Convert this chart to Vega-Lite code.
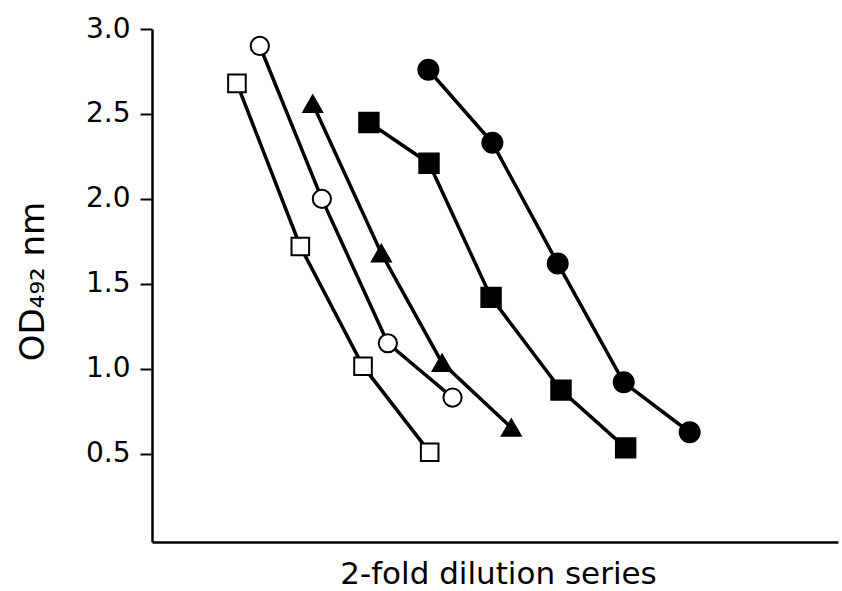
{
  "$schema": "https://vega.github.io/schema/vega-lite/v6.json",
  "width": 686,
  "height": 513,
  "autosize": {"type": "none"},
  "padding": {"left": 152, "top": 29, "right": 4, "bottom": 49},
  "background": "white",
  "config": {
    "view": {"stroke": null},
    "font": "DejaVu Sans",
    "axis": {"grid": false, "labelColor": "black", "titleColor": "black", "domainColor": "black", "tickColor": "black"}
  },
  "data": {
    "values": [
      {"series": "A", "x": 1.30, "od": 2.68},
      {"series": "A", "x": 2.27, "od": 1.72},
      {"series": "A", "x": 3.23, "od": 1.015},
      {"series": "A", "x": 4.25, "od": 0.508},
      {"series": "B", "x": 1.65, "od": 2.90},
      {"series": "B", "x": 2.60, "od": 2.00},
      {"series": "B", "x": 3.61, "od": 1.15},
      {"series": "B", "x": 4.60, "od": 0.83},
      {"series": "C", "x": 2.46, "od": 2.56},
      {"series": "C", "x": 3.51, "od": 1.68},
      {"series": "C", "x": 4.44, "od": 1.035},
      {"series": "C", "x": 5.50, "od": 0.653},
      {"series": "D", "x": 3.32, "od": 2.45},
      {"series": "D", "x": 4.24, "od": 2.21},
      {"series": "D", "x": 5.19, "od": 1.42},
      {"series": "D", "x": 6.26, "od": 0.874},
      {"series": "D", "x": 7.25, "od": 0.534},
      {"series": "E", "x": 4.23, "od": 2.76},
      {"series": "E", "x": 5.21, "od": 2.33},
      {"series": "E", "x": 6.21, "od": 1.62},
      {"series": "E", "x": 7.22, "od": 0.92},
      {"series": "E", "x": 8.23, "od": 0.626}
    ]
  },
  "encoding": {
    "x": {
      "field": "x", "type": "quantitative",
      "scale": {"domain": [0, 10.5], "nice": false, "zero": false},
      "axis": {
        "title": "2-fold dilution series",
        "labels": false, "ticks": false,
        "domainWidth": 2.5,
        "titleFontSize": 31, "titleFontWeight": "normal",
        "titleX": 346, "titleY": 41, "titleAlign": "center", "titleBaseline": "alphabetic"
      }
    },
    "y": {
      "field": "od", "type": "quantitative",
      "scale": {"domain": [-0.02, 3.0], "nice": false, "zero": false},
      "axis": {
        "title": "OD₄₉₂ nm",
        "values": [0.5, 1.0, 1.5, 2.0, 2.5, 3.0],
        "format": ".1f",
        "domainWidth": 2.5,
        "tickSize": 12, "tickWidth": 2,
        "labelFontSize": 28, "labelPadding": 10,
        "titleFontSize": 34, "titleFontWeight": "normal",
        "titleAngle": -90, "titleX": -109, "titleY": 252,
        "titleAlign": "center", "titleBaseline": "alphabetic"
      }
    }
  },
  "layer": [
    {
      "mark": {"type": "line", "color": "black", "strokeWidth": 3.5},
      "encoding": {"detail": {"field": "series"}}
    },
    {
      "mark": {"type": "point", "filled": false, "stroke": "black", "strokeWidth": 2, "opacity": 1},
      "encoding": {
        "shape": {
          "field": "series", "type": "nominal", "legend": null,
          "scale": {"domain": ["A", "B", "C", "D", "E"], "range": ["square", "circle", "triangle-up", "square", "circle"]}
        },
        "fill": {
          "field": "series", "type": "nominal", "legend": null,
          "scale": {"domain": ["A", "B", "C", "D", "E"], "range": ["white", "white", "black", "black", "black"]}
        },
        "size": {
          "field": "series", "type": "nominal", "legend": null,
          "scale": {"domain": ["A", "B", "C", "D", "E"], "range": [310, 400, 650, 330, 380]}
        }
      }
    }
  ]
}
